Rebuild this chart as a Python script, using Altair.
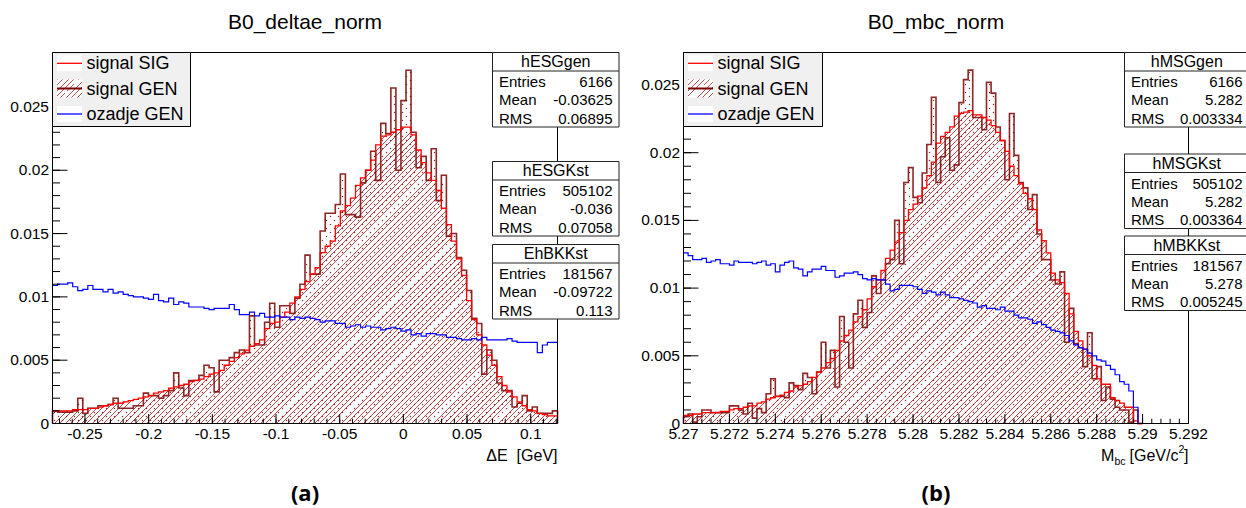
import altair as alt
import numpy as np
import pandas as pd

FONT = "Liberation Sans"
DARK_RED = "#7a0000"
HATCH_RED = "#b45050"

# ---------------- histogram contents (normalised bin contents) ----------------
# Delta E: 100 bins across the drawn range
DE_LO, DE_HI = -0.2755, 0.1210
de_sig = [0.0010, 0.0010, 0.0010, 0.0010, 0.0011, 0.0011, 0.0011, 0.0012, 0.0012, 0.0013,
          0.0014, 0.0015, 0.0016, 0.0016, 0.0017, 0.0018, 0.0019, 0.0020, 0.0021, 0.0022,
          0.0024, 0.0025, 0.0026, 0.0028, 0.0029, 0.0030, 0.0031, 0.0033, 0.0034, 0.0035,
          0.0037, 0.0039, 0.0040, 0.0042, 0.0046, 0.0049, 0.0052, 0.0055, 0.0058, 0.0061,
          0.0063, 0.0066, 0.0075, 0.0079, 0.0080, 0.0084, 0.0088, 0.0095, 0.0100, 0.0106,
          0.0112, 0.0118, 0.0123, 0.0135, 0.0140, 0.0144, 0.0156, 0.0168, 0.0172, 0.0178,
          0.0188, 0.0194, 0.0200, 0.0208, 0.0220, 0.0227, 0.0228, 0.0230, 0.0232, 0.0234,
          0.0234, 0.0228, 0.0216, 0.0206, 0.0198, 0.0192, 0.0184, 0.0170, 0.0157, 0.0144,
          0.0130, 0.0117, 0.0097, 0.0082, 0.0070, 0.0062, 0.0054, 0.0046, 0.0037, 0.0030,
          0.0025, 0.0021, 0.0017, 0.0014, 0.0011, 0.0010, 0.0008, 0.0007, 0.0006, 0.0006]
de_gen = [0.0010, 0.0009, 0.0009, 0.0009, 0.0010, 0.0020, 0.0008, 0.0012, 0.0012, 0.0014,
          0.0014, 0.0015, 0.0020, 0.0012, 0.0012, 0.0012, 0.0014, 0.0014, 0.0024, 0.0022,
          0.0022, 0.0020, 0.0022, 0.0026, 0.0040, 0.0028, 0.0022, 0.0034, 0.0034, 0.0038,
          0.0046, 0.0044, 0.0025, 0.0050, 0.0050, 0.0052, 0.0056, 0.0058, 0.0056, 0.0085,
          0.0062, 0.0062, 0.0080, 0.0095, 0.0076, 0.0093, 0.0093, 0.0087, 0.0099, 0.0110,
          0.0133, 0.0118, 0.0118, 0.0152, 0.0166, 0.0166, 0.0173, 0.0197, 0.0165, 0.0165,
          0.0163, 0.0190, 0.0200, 0.0215, 0.0192, 0.0237, 0.0229, 0.0265, 0.0200, 0.0255,
          0.0279, 0.0230, 0.0202, 0.0211, 0.0192, 0.0217, 0.0176, 0.0196, 0.0148, 0.0150,
          0.0131, 0.0121, 0.0105, 0.0083, 0.0079, 0.0039, 0.0058, 0.0050, 0.0032, 0.0026,
          0.0026, 0.0013, 0.0016, 0.0022, 0.0010, 0.0013, 0.0008, 0.0008, 0.0008, 0.0010]
de_bkg = [0.0109, 0.0110, 0.0110, 0.0111, 0.0108, 0.0105, 0.0106, 0.0109, 0.0106, 0.0106,
          0.0104, 0.0106, 0.0103, 0.0104, 0.0102, 0.0101, 0.0100, 0.0100, 0.0099, 0.0098,
          0.0102, 0.0097, 0.0096, 0.0099, 0.0094, 0.0096, 0.0095, 0.0092, 0.0092, 0.0092,
          0.0091, 0.0090, 0.0091, 0.0091, 0.0091, 0.0094, 0.0090, 0.0086, 0.0086, 0.0088,
          0.0085, 0.0087, 0.0084, 0.0084, 0.0085, 0.0084, 0.0084, 0.0082, 0.0084, 0.0083,
          0.0084, 0.0083, 0.0082, 0.0080, 0.0081, 0.0081, 0.0079, 0.0079, 0.0076, 0.0077,
          0.0078, 0.0076, 0.0077, 0.0076, 0.0076, 0.0074, 0.0075, 0.0076, 0.0075, 0.0073,
          0.0074, 0.0070, 0.0071, 0.0069, 0.0071, 0.0071, 0.0070, 0.0070, 0.0068, 0.0068,
          0.0067, 0.0066, 0.0066, 0.0067, 0.0066, 0.0068, 0.0066, 0.0066, 0.0066, 0.0066,
          0.0067, 0.0065, 0.0064, 0.0064, 0.0064, 0.0064, 0.0056, 0.0062, 0.0064, 0.0064]

# M_bc: 100 bins from 5.270 to 5.290
MBC_LO, MBC_HI = 5.270, 5.290
mbc_sig = [0.0006, 0.0006, 0.0007, 0.0007, 0.0008, 0.0008, 0.0008, 0.0008, 0.0009, 0.0009,
           0.0010, 0.0011, 0.0011, 0.0012, 0.0013, 0.0013, 0.0015, 0.0016, 0.0018, 0.0019,
           0.0020, 0.0021, 0.0023, 0.0024, 0.0027, 0.0028, 0.0029, 0.0031, 0.0034, 0.0038,
           0.0041, 0.0045, 0.0048, 0.0054, 0.0061, 0.0065, 0.0069, 0.0075, 0.0079, 0.0084,
           0.0092, 0.0101, 0.0106, 0.0113, 0.0122, 0.0128, 0.0134, 0.0141, 0.0150, 0.0158,
           0.0162, 0.0168, 0.0174, 0.0183, 0.0193, 0.0207, 0.0212, 0.0215, 0.0219, 0.0227,
           0.0229, 0.0230, 0.0231, 0.0228, 0.0228, 0.0226, 0.0224, 0.0220, 0.0215, 0.0209,
           0.0201, 0.0190, 0.0183, 0.0177, 0.0170, 0.0166, 0.0158, 0.0143, 0.0135, 0.0126,
           0.0111, 0.0106, 0.0104, 0.0096, 0.0081, 0.0068, 0.0061, 0.0055, 0.0050, 0.0043,
           0.0033, 0.0029, 0.0029, 0.0019, 0.0017, 0.0015, 0.0012, 0.0012, 0.0002, 0.0000]
mbc_gen = [0.0005, 0.0007, 0.0001, 0.0005, 0.0010, 0.0010, 0.0008, 0.0008, 0.0008, 0.0008,
           0.0013, 0.0013, 0.0010, 0.0007, 0.0015, 0.0004, 0.0011, 0.0008, 0.0022, 0.0033,
           0.0020, 0.0020, 0.0019, 0.0030, 0.0028, 0.0025, 0.0037, 0.0034, 0.0022, 0.0038,
           0.0060, 0.0041, 0.0054, 0.0027, 0.0079, 0.0060, 0.0041, 0.0081, 0.0091, 0.0071,
           0.0082, 0.0109, 0.0096, 0.0106, 0.0118, 0.0121, 0.0150, 0.0118, 0.0178, 0.0189,
           0.0167, 0.0163, 0.0185, 0.0206, 0.0241, 0.0178, 0.0197, 0.0211, 0.0187, 0.0191,
           0.0237, 0.0254, 0.0261, 0.0226, 0.0226, 0.0217, 0.0252, 0.0244, 0.0219, 0.0209,
           0.0180, 0.0229, 0.0198, 0.0178, 0.0174, 0.0158, 0.0169, 0.0140, 0.0121, 0.0121,
           0.0106, 0.0103, 0.0112, 0.0060, 0.0085, 0.0059, 0.0056, 0.0042, 0.0067, 0.0033,
           0.0042, 0.0017, 0.0027, 0.0018, 0.0012, 0.0010, 0.0010, 0.0001, 0.0010, 0.0000]
mbc_bkg = [0.0126, 0.0124, 0.0121, 0.0121, 0.0122, 0.0119, 0.0120, 0.0121, 0.0118, 0.0118,
           0.0117, 0.0120, 0.0119, 0.0119, 0.0119, 0.0118, 0.0119, 0.0120, 0.0117, 0.0118,
           0.0112, 0.0117, 0.0119, 0.0120, 0.0115, 0.0114, 0.0109, 0.0112, 0.0114, 0.0114,
           0.0116, 0.0113, 0.0113, 0.0108, 0.0109, 0.0111, 0.0111, 0.0112, 0.0110, 0.0107,
           0.0106, 0.0107, 0.0106, 0.0106, 0.0103, 0.0098, 0.0099, 0.0102, 0.0102, 0.0102,
           0.0101, 0.0099, 0.0096, 0.0098, 0.0097, 0.0095, 0.0097, 0.0095, 0.0093, 0.0093,
           0.0092, 0.0091, 0.0090, 0.0089, 0.0086, 0.0087, 0.0085, 0.0085, 0.0084, 0.0086,
           0.0083, 0.0083, 0.0080, 0.0078, 0.0078, 0.0077, 0.0074, 0.0075, 0.0073, 0.0071,
           0.0069, 0.0068, 0.0067, 0.0065, 0.0061, 0.0058, 0.0056, 0.0055, 0.0052, 0.0050,
           0.0047, 0.0046, 0.0043, 0.0040, 0.0036, 0.0031, 0.0029, 0.0024, 0.0012, 0.0000]

# ---------------- axes ----------------
de_xlim, de_ymax = (-0.2755, 0.1210), 0.0293
mbc_xlim, mbc_ymax = (5.270, 5.292), 0.0274
de_xticks = [-0.25, -0.2, -0.15, -0.1, -0.05, 0.0, 0.05, 0.1]
de_xlabels = ["-0.25", "-0.2", "-0.15", "-0.1", "-0.05", "0", "0.05", "0.1"]
mbc_xticks = [5.270, 5.272, 5.274, 5.276, 5.278, 5.280, 5.282, 5.284, 5.286, 5.288, 5.290, 5.292]
mbc_xlabels = ["5.27", "5.272", "5.274", "5.276", "5.278", "5.28", "5.282", "5.284",
               "5.286", "5.288", "5.29", "5.292"]
yticks = [0.0, 0.005, 0.01, 0.015, 0.02, 0.025]
ylabels = ["0", "0.005", "0.01", "0.015", "0.02", "0.025"]
de_xminor = [round(v, 4) for v in np.arange(-0.27, 0.1205, 0.01)]
mbc_xminor = [round(5.270 + 0.0004 * k, 5) for k in range(56)]
de_yminor = [round(0.001 * k, 4) for k in range(30)]
mbc_yminor = [round(0.001 * k, 4) for k in range(28)]

# ---------------- text ----------------
titles = ["B0_deltae_norm", "B0_mbc_norm"]
captions = ["(a)", "(b)"]
legend_labels = ["signal SIG", "signal GEN", "ozadje GEN"]
de_stats = [("hESGgen", "6166", "-0.03625", "0.06895"),
            ("hESGKst", "505102", "-0.036", "0.07058"),
            ("EhBKKst", "181567", "-0.09722", "0.113")]
mbc_stats = [("hMSGgen", "6166", "5.282", "0.003334"),
             ("hMSGKst", "505102", "5.282", "0.003364"),
             ("hMBKKst", "181567", "5.278", "0.005245")]

# ---------------- pixel layout ----------------
W_TOTAL, H_TOTAL = 1246, 508
FRAME_A = (52.5, 557.5, 52.5, 423.5)
FRAME_B = (683.5, 1188.5, 52.5, 423.5)

ONE = pd.DataFrame({"k": [0]})


def text_at(s, x, y, size, align="left", baseline="alphabetic", weight="normal", font=FONT):
    return alt.Chart(ONE).mark_text(
        text=s, font=font, fontSize=size, fontWeight=weight, align=align,
        baseline=baseline, color="black").encode(x=alt.value(x), y=alt.value(y))


def rect_at(x0, y0, x1, y1, **style):
    return alt.Chart(ONE).mark_rect(**style).encode(
        x=alt.value(x0), x2=alt.value(x1), y=alt.value(y0), y2=alt.value(y1))


def hrule_at(x0, x1, y, color, width):
    return alt.Chart(ONE).mark_rule(color=color, strokeWidth=width).encode(
        x=alt.value(x0), x2=alt.value(x1), y=alt.value(y))


def hatch(w_px, h_px, period=5.4, frac=0.17, color=HATCH_RED):
    """45-degree '/' hatching as a hard-stop linear gradient over the item's box."""
    r = h_px / w_px
    s = (1 + r) / (1 + r * r)
    n = max(1, int(round((w_px + h_px) / period)))
    stops = []
    for k in range(n):
        a, b, c = k / n, (k + frac) / n, (k + 1) / n
        stops += [{"offset": a, "color": color}, {"offset": b, "color": color},
                  {"offset": b, "color": "#ffffff"}, {"offset": c, "color": "#ffffff"}]
    return {"gradient": "linear", "x1": 0, "y1": 0, "x2": s, "y2": s * r, "stops": stops}


def outline_df(lo, hi, vals, drop_ends):
    n = len(vals)
    w = (hi - lo) / n
    xs, vs = [], []
    if drop_ends:
        xs.append(lo); vs.append(0.0)
    for i, v in enumerate(vals):
        xs.append(lo + i * w); vs.append(v)
    xs.append(hi); vs.append(vals[-1])
    if drop_ends:
        xs.append(hi); vs.append(0.0)
    return pd.DataFrame({"o": range(len(xs)), "x": xs, "v": vs})


def panel(frame, xlim, ymax, lo, hi, sig, gen, bkg, xticks, xlabels, xminor, yminor,
          title, caption, stats, stat_x, stat_tops, legend_x1, xtitle):
    x0, x1, yt, yb = frame
    xa, xb = xlim
    px_x = (x1 - x0) / (xb - xa)
    px_y = (yb - yt) / ymax
    xs = alt.Scale(domain=[xa, xb], range=[x0, x1], nice=False, zero=False)
    ys = alt.Scale(domain=[0, ymax], range=[yb, yt], nice=False, zero=False)

    def X(f):
        return alt.X(f, scale=xs, axis=None)

    def Y(f):
        return alt.Y(f, scale=ys, axis=None)

    layers = []

    # hatched fill under the SIG shape
    area = outline_df(lo, hi, sig, False)
    area["z"] = 0.0
    w_px = (hi - lo) * px_x
    h_px = max(sig) * px_y
    layers.append(alt.Chart(area).mark_area(interpolate="step-after", fill=hatch(w_px, h_px))
                  .encode(x=X("x:Q"), y=Y("v:Q"), y2="z:Q"))

    # dotted fill under the GEN histogram
    n = len(gen)
    bw = (hi - lo) / n
    dx, dy = [], []
    c = 0
    px = x0 + 2.0
    while px < x0 + (hi - xa) * px_x:
        xd = xa + (px - x0) / px_x
        i = int((xd - lo) / bw)
        if 0 <= i < n:
            top = yb - gen[i] * px_y
            py = yb - 3.0 - (4.0 if c % 2 else 0.0)
            while py > top + 1.5:
                dx.append(xd)
                dy.append((yb - py) / px_y)
                py -= 8.0
        px += 4.0
        c += 1
    dots = pd.DataFrame({"x": dx, "v": dy})
    layers.append(alt.Chart(dots).mark_square(size=1.6, color=DARK_RED, opacity=0.85)
                  .encode(x=X("x:Q"), y=Y("v:Q")))

    # histogram outlines
    layers.append(alt.Chart(outline_df(lo, hi, gen, True))
                  .mark_line(interpolate="step-after", color=DARK_RED, strokeWidth=1.6, opacity=0.85)
                  .encode(x=X("x:Q"), y=Y("v:Q"), order="o:Q"))
    layers.append(alt.Chart(outline_df(lo, hi, sig, False))
                  .mark_line(interpolate="step-after", color="#ff0000", strokeWidth=1.3)
                  .encode(x=X("x:Q"), y=Y("v:Q"), order="o:Q"))
    layers.append(alt.Chart(outline_df(lo, hi, bkg, False))
                  .mark_line(interpolate="step-after", color="#0000ff", strokeWidth=1.2)
                  .encode(x=X("x:Q"), y=Y("v:Q"), order="o:Q"))

    # frame
    layers.append(rect_at(x0, yt, x1, yb, fill="white", fillOpacity=0, stroke="black", strokeWidth=1))

    # axis ticks (pointing into the frame) and labels
    xt = pd.DataFrame({"v": xticks, "lab": xlabels})
    layers.append(alt.Chart(xt).mark_rule(color="black", strokeWidth=1)
                  .encode(x=X("v:Q"), y=alt.value(yb), y2=alt.value(yb - 9.5)))
    layers.append(alt.Chart(pd.DataFrame({"v": xminor})).mark_rule(color="black", strokeWidth=1)
                  .encode(x=X("v:Q"), y=alt.value(yb), y2=alt.value(yb - 4.8)))
    layers.append(alt.Chart(xt).mark_text(font=FONT, fontSize=15.5, align="center",
                                          baseline="alphabetic", color="black")
                  .encode(x=X("v:Q"), y=alt.value(438.5), text="lab:N"))
    yt_df = pd.DataFrame({"v": yticks, "lab": ylabels})
    layers.append(alt.Chart(yt_df).mark_rule(color="black", strokeWidth=1)
                  .encode(y=Y("v:Q"), x=alt.value(x0), x2=alt.value(x0 + 15)))
    layers.append(alt.Chart(pd.DataFrame({"v": yminor})).mark_rule(color="black", strokeWidth=1)
                  .encode(y=Y("v:Q"), x=alt.value(x0), x2=alt.value(x0 + 7.5)))
    layers.append(alt.Chart(yt_df).mark_text(font=FONT, fontSize=15.5, align="right",
                                             baseline="middle", color="black")
                  .encode(y=Y("v:Q"), x=alt.value(x0 - 3.5), text="lab:N"))

    # legend
    layers.append(rect_at(x0, 52.5, legend_x1, 126.5, fill="#f0f0f0", stroke="black", strokeWidth=1))
    sx0, sx1 = x0 + 4.5, x0 + 29.5
    rows = [63.3, 88.5, 114.0]
    layers.append(rect_at(sx0, rows[0] - 8, sx1, rows[0] + 8, fill="white"))
    layers.append(hrule_at(sx0, sx1, rows[0], "#ff0000", 1.3))
    layers.append(rect_at(sx0, rows[1] - 9, sx1, rows[1] + 9, fill=hatch(sx1 - sx0, 18)))
    layers.append(hrule_at(sx0, sx1, rows[1], DARK_RED, 2.0))
    layers.append(rect_at(sx0, rows[2] - 8, sx1, rows[2] + 8, fill="white"))
    layers.append(hrule_at(sx0, sx1, rows[2], "#0000ff", 1.3))
    for lab, ry in zip(legend_labels, rows):
        layers.append(text_at(lab, sx1 + 4.5, ry + 1, 18, baseline="middle"))

    # statistics boxes
    bx0, bx1 = stat_x
    for (name, ent, mean, rms), top in zip(stats, stat_tops):
        layers.append(rect_at(bx0, top, bx1, top + 74.5, fill="white", stroke="#222222", strokeWidth=1))
        layers.append(hrule_at(bx0, bx1, top + 18.5, "#222222", 1))
        layers.append(text_at(name, (bx0 + bx1) / 2, top + 9.8, 16, align="center", baseline="middle"))
        for k, (lab, val) in enumerate([("Entries", ent), ("Mean", mean), ("RMS", rms)]):
            ry = top + 29.5 + 18.4 * k
            layers.append(text_at(lab, bx0 + 6.5, ry, 15, baseline="middle"))
            layers.append(text_at(val, bx1 - 6.5, ry, 15, align="right", baseline="middle"))

    # titles, axis title, caption
    cx = (x0 + x1) / 2
    layers.append(text_at(title, cx, 28.5, 21, align="center"))
    layers += xtitle
    layers.append(text_at(caption, cx, 501, 22, align="center", weight="bold", font="Open Sans"))
    return alt.layer(*layers)


de_xtitle = [text_at("\u0394E\u00a0 [GeV]", 557.5, 461, 16, align="right")]
mbc_xtitle = [
    text_at("M", 1101, 461, 16),
    text_at("bc", 1114.5, 465, 10.5),
    text_at("[GeV/c", 1129.5, 461, 16),
    text_at("2", 1178.5, 453, 10.5),
    text_at("]", 1184, 461, 16),
]

panel_a = panel(FRAME_A, de_xlim, de_ymax, DE_LO, DE_HI, de_sig, de_gen, de_bkg,
                de_xticks, de_xlabels, de_xminor, de_yminor,
                titles[0], captions[0], de_stats, (492.5, 619.0), [52.5, 161.5, 244.5],
                190.5, de_xtitle)
panel_b = panel(FRAME_B, mbc_xlim, mbc_ymax, MBC_LO, MBC_HI, mbc_sig, mbc_gen, mbc_bkg,
                mbc_xticks, mbc_xlabels, mbc_xminor, mbc_yminor,
                titles[1], captions[1], mbc_stats, (1124.5, 1249.0), [52.5, 154.0, 236.0],
                822.5, mbc_xtitle)

chart = (
    alt.layer(panel_a, panel_b)
    .resolve_scale(x="independent", y="independent")
    .properties(width=W_TOTAL, height=H_TOTAL, padding=0,
                autosize=alt.AutoSizeParams(type="none"), background="white")
    .configure_view(strokeWidth=0)
)

chart.save("out.html", embed_options={"renderer": "svg", "actions": False})
